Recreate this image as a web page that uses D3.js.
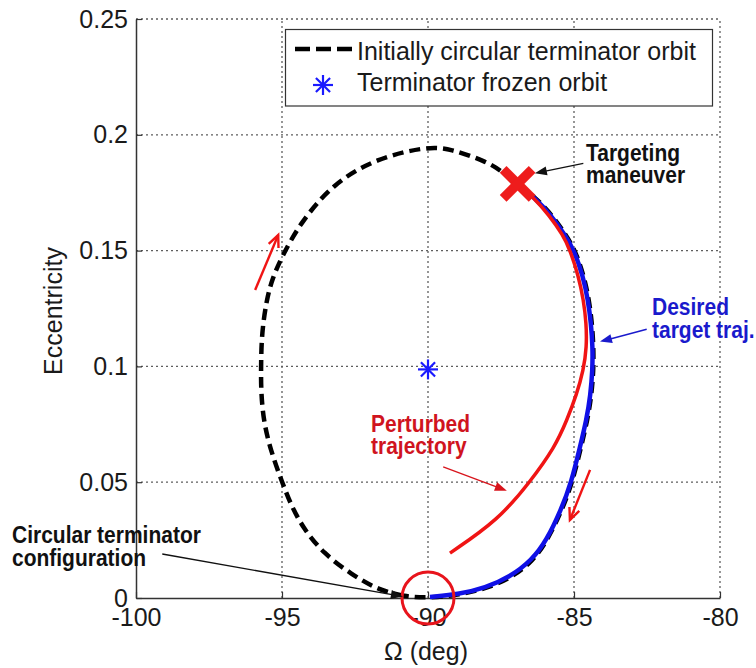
<!DOCTYPE html>
<html>
<head>
<meta charset="utf-8">
<script src="https://cdn.jsdelivr.net/npm/d3@7"></script>
<style>
  html, body { margin: 0; padding: 0; background: #fff; }
  svg { display: block; font-family: "Liberation Sans", Arial, Helvetica, sans-serif; }
</style>
</head>
<body>
<svg id="chart" width="756" height="668"></svg>
<script>
// Axis ticks
const omegaTicks = [-100, -95, -90, -85, -80];
const eccTicks = [0, 0.05, 0.1, 0.15, 0.2, 0.25];

// Initially circular terminator orbit: closed loop in (Ω, e), clockwise from the bottom
const circularOmega = [-90.0, -90.788, -91.712, -92.637, -93.562, -94.281, -94.692, -95.0, -95.394, -95.64, -95.719, -95.719, -95.695, -95.531, -95.325, -95.0, -94.384, -93.243, -91.757, -90.045, -89.247, -87.99, -87.534, -86.935, -86.336, -85.753, -85.274, -84.966, -84.658, -84.486, -84.384, -84.332, -84.332, -84.401, -84.538, -84.76, -85.051, -85.411, -85.908, -86.404, -87.158, -88.048, -88.973];
const circularEcc   = [0.0, 0.0006, 0.0035, 0.0104, 0.019, 0.0302, 0.0402, 0.0501, 0.0639, 0.0769, 0.0898, 0.1002, 0.1143, 0.1287, 0.1382, 0.1474, 0.1618, 0.1791, 0.1899, 0.1949, 0.1941, 0.1884, 0.1848, 0.1788, 0.1731, 0.1654, 0.1567, 0.1503, 0.139, 0.1287, 0.1187, 0.1084, 0.0984, 0.0877, 0.0769, 0.0652, 0.0501, 0.038, 0.025, 0.016, 0.0086, 0.0039, 0.0013];

// Desired target trajectory (from the maneuver back to the circular configuration)
const targetOmega = [-86.935, -86.37, -85.788, -85.308, -85.0, -84.692, -84.521, -84.418, -84.36, -84.366, -84.435, -84.572, -84.795, -85.086, -85.445, -85.935, -86.438, -87.192, -88.048, -88.904, -89.932];
const targetEcc   = [0.1788, 0.1731, 0.1654, 0.1567, 0.1503, 0.139, 0.1287, 0.1187, 0.1084, 0.0984, 0.0877, 0.0769, 0.0652, 0.0501, 0.038, 0.025, 0.0164, 0.0091, 0.0043, 0.0017, 0.0004];

// Perturbed trajectory after the targeting maneuver
const perturbedOmega = [-86.935, -86.404, -85.856, -85.377, -85.137, -84.846, -84.675, -84.579, -84.565, -84.675, -84.914, -85.24, -85.651, -86.507, -87.589, -89.247];
const perturbedEcc   = [0.1792, 0.1731, 0.1654, 0.1567, 0.1503, 0.139, 0.1287, 0.1187, 0.1084, 0.0984, 0.0877, 0.0769, 0.0652, 0.0501, 0.0337, 0.0194];

// Special points
const frozenOrbit = { omega: -90, ecc: 0.0987 };
const maneuverPoint = { omega: -86.93, ecc: 0.1788 };
const circularConfig = { omega: -90, ecc: 0 };

// Legend entries
const legendLabels = ["Initially circular terminator orbit", "Terminator frozen orbit"];

const svg = d3.select("#chart");
const x = d3.scaleLinear().domain([-100, -80]).range([136, 720]);
const y = d3.scaleLinear().domain([0, 0.25]).range([598, 19]);

const zip = (a, b) => a.map((v, i) => [v, b[i]]);
const line = d3.line().x(d => x(d[0])).y(d => y(d[1]));

// Dotted grid
const grid = svg.append("g").attr("stroke", "#5e5e5e").attr("stroke-width", 1.3).attr("stroke-dasharray", "2,3");
grid.selectAll("line.v").data(omegaTicks.slice(1)).join("line")
  .attr("x1", d => x(d)).attr("x2", d => x(d)).attr("y1", y(0)).attr("y2", y(0.25));
grid.selectAll("line.h").data(eccTicks.slice(1)).join("line")
  .attr("x1", x(-100)).attr("x2", x(-80)).attr("y1", d => y(d)).attr("y2", d => y(d));

// Axes (ticks point inward)
const xAxis = svg.append("g").attr("transform", `translate(0,${y(0)})`)
  .call(d3.axisBottom(x).tickValues(omegaTicks).tickSizeInner(-6).tickSizeOuter(0).tickPadding(10).tickFormat(d => String(d)));
const yAxis = svg.append("g").attr("transform", `translate(${x(-100)},0)`)
  .call(d3.axisLeft(y).tickValues(eccTicks).tickSizeInner(-6).tickSizeOuter(0).tickPadding(8).tickFormat(d => String(d)));
[xAxis, yAxis].forEach(g => {
  g.select(".domain").attr("stroke", "#333").attr("stroke-width", 1.5);
  g.selectAll(".tick line").attr("stroke", "#333").attr("stroke-width", 1.2);
  g.selectAll(".tick text").attr("font-size", 25).attr("fill", "#1a1a1a")
    .attr("font-family", "'Liberation Sans', Arial, sans-serif");
});

// Axis titles
svg.append("text").attr("x", 426).attr("y", 660).attr("text-anchor", "middle")
  .attr("font-size", 25).attr("fill", "#1a1a1a").text("\u03A9 (deg)");
svg.append("text").attr("transform", "translate(62,311) rotate(-90)").attr("text-anchor", "middle")
  .attr("font-size", 25).attr("fill", "#1a1a1a").text("Eccentricity");

// Curves
svg.append("path").datum(zip(circularOmega, circularEcc))
  .attr("d", line.curve(d3.curveBasisClosed)).attr("fill", "none")
  .attr("stroke", "#000").attr("stroke-width", 4.5).attr("stroke-dasharray", "11,6");
svg.append("path").datum(zip(targetOmega, targetEcc))
  .attr("d", line.curve(d3.curveBasis)).attr("fill", "none")
  .attr("stroke", "#1010e6").attr("stroke-width", 4.5);
svg.append("path").datum(zip(perturbedOmega, perturbedEcc))
  .attr("d", line.curve(d3.curveBasis)).attr("fill", "none")
  .attr("stroke", "#f01414").attr("stroke-width", 3.5);

// Asterisk marker
function asterisk(g, cx, cy, r, color) {
  [0, 45, 90, 135].forEach(a => {
    const t = a * Math.PI / 180;
    g.append("line").attr("x1", cx - r * Math.cos(t)).attr("y1", cy - r * Math.sin(t))
      .attr("x2", cx + r * Math.cos(t)).attr("y2", cy + r * Math.sin(t))
      .attr("stroke", color).attr("stroke-width", 2.2);
  });
}
asterisk(svg, x(frozenOrbit.omega), y(frozenOrbit.ecc), 10, "#1a1aff");

// Targeting maneuver marker
const mx = x(maneuverPoint.omega), my = y(maneuverPoint.ecc);
[[-1, -1], [1, -1]].forEach(([dx, dy]) => {
  svg.append("line").attr("x1", mx + dx * 14.5).attr("y1", my + dy * 14.5)
    .attr("x2", mx - dx * 14.5).attr("y2", my - dy * 14.5)
    .attr("stroke", "#ee1c1c").attr("stroke-width", 9.5);
});

// Circle around the circular configuration
svg.append("circle").attr("cx", x(circularConfig.omega)).attr("cy", y(circularConfig.ecc)).attr("r", 26)
  .attr("fill", "none").attr("stroke", "#e8141c").attr("stroke-width", 3);

// Arrows
function filledArrow(g, p0, p1, color, width) {
  const x0 = x(p0[0]), y0 = y(p0[1]), x1 = x(p1[0]), y1 = y(p1[1]);
  const ang = Math.atan2(y1 - y0, x1 - x0), L = 12, W = 4.5;
  g.append("line").attr("x1", x0).attr("y1", y0).attr("x2", x1 - L * 0.8 * Math.cos(ang)).attr("y2", y1 - L * 0.8 * Math.sin(ang))
    .attr("stroke", color).attr("stroke-width", width);
  const bx = x1 - L * Math.cos(ang), by = y1 - L * Math.sin(ang);
  g.append("path").attr("d",
    `M${x1},${y1}L${bx + W * Math.sin(ang)},${by - W * Math.cos(ang)}L${bx - W * Math.sin(ang)},${by + W * Math.cos(ang)}Z`)
    .attr("fill", color);
}
function openArrow(g, p0, p1, color, width) {
  const x0 = x(p0[0]), y0 = y(p0[1]), x1 = x(p1[0]), y1 = y(p1[1]);
  const ang = Math.atan2(y1 - y0, x1 - x0), L = 13, spread = 0.42;
  g.append("line").attr("x1", x0).attr("y1", y0).attr("x2", x1).attr("y2", y1)
    .attr("stroke", color).attr("stroke-width", width);
  g.append("path").attr("d",
    `M${x1 - L * Math.cos(ang - spread)},${y1 - L * Math.sin(ang - spread)}L${x1},${y1}L${x1 - L * Math.cos(ang + spread)},${y1 - L * Math.sin(ang + spread)}`)
    .attr("fill", "none").attr("stroke", color).attr("stroke-width", width).attr("stroke-linejoin", "miter");
}
const notes = svg.append("g");
filledArrow(notes, [-84.68, 0.1877], [-86.34, 0.1834], "#111", 1.3);
filledArrow(notes, [-99.1, 0.019], [-90.86, 0.0006], "#111", 1.3);
filledArrow(notes, [-82.51, 0.116], [-84.11, 0.1107], "#1a1acc", 1.5);
filledArrow(notes, [-89.48, 0.0566], [-87.3, 0.0463], "#d8141c", 1.3);
openArrow(notes, [-95.92, 0.133], [-95.13, 0.1567], "#f01414", 2.4);
openArrow(notes, [-84.45, 0.0553], [-85.14, 0.0337], "#f01414", 2.4);

// Annotation labels
function note(lines, px, py, color) {
  const g = svg.append("g").attr("transform", `translate(${px},${py}) scale(1,1.15)`);
  lines.forEach((t, i) => {
    g.append("text").attr("x", 0).attr("y", i * 20).attr("font-size", 21).attr("font-weight", "bold")
      .attr("fill", color).text(t);
  });
}
note(["Targeting", "maneuver"], 586, 160.5, "#111");
note(["Desired", "target traj."], 652, 315, "#1a1acc");
note(["Perturbed", "trajectory"], 371, 431.5, "#d0141e");
note(["Circular terminator", "configuration"], 12, 543, "#111");

// Legend
const lg = svg.append("g");
lg.append("rect").attr("x", 285.5).attr("y", 29.5).attr("width", 427).attr("height", 76.5)
  .attr("fill", "#fff").attr("stroke", "#333").attr("stroke-width", 1.2);
lg.append("line").attr("x1", 295).attr("x2", 352).attr("y1", 49).attr("y2", 49)
  .attr("stroke", "#000").attr("stroke-width", 4.5).attr("stroke-dasharray", "15,6");
asterisk(lg, 323, 85, 10, "#1a1aff");
lg.selectAll("text").data(legendLabels).join("text")
  .attr("x", 357).attr("y", (d, i) => 60 + i * 31).attr("font-size", 25).attr("fill", "#1a1a1a").text(d => d);
</script>
</body>
</html>
